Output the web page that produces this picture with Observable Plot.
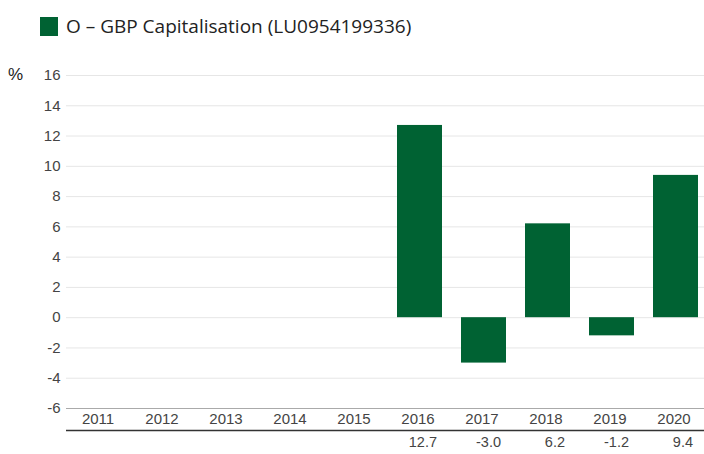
<!DOCTYPE html>
<html><head><meta charset="utf-8">
<script src="https://cdn.jsdelivr.net/npm/d3@7"></script>
<script src="https://cdn.jsdelivr.net/npm/@observablehq/plot@0.6"></script>
<style>
body{margin:0;background:#fff;width:704px;height:454px;overflow:hidden;position:relative}
#legend{position:absolute;left:40px;top:14px;font-family:"Open Sans","Noto Sans",sans-serif;font-size:19px;color:#222;display:flex;align-items:center;height:24px;z-index:2}
#legend .sw{width:18px;height:19px;background:#006233;margin-right:8px}
#pct{position:absolute;left:8px;top:65px;font-family:"Liberation Sans",Arial,sans-serif;font-size:17px;color:#222;z-index:2}
#chart{position:absolute;left:0;top:50px;z-index:1}
</style></head><body>
<div id="legend"><div class="sw"></div><span>O – GBP Capitalisation (LU0954199336)</span></div>
<div id="pct">%</div>
<div id="chart"></div>
<script>
const years = ["2011","2012","2013","2014","2015","2016","2017","2018","2019","2020"];
const returns = [null,null,null,null,null,12.7,-3.0,6.2,-1.2,9.4];
const yTicks = [-6,-4,-2,0,2,4,6,8,10,12,14,16];
const seriesColor = "#006233";

const data = years.map((y,i)=>({year:y, value:returns[i]}));
const bars = data.filter(d=>d.value!=null);

const plot = Plot.plot({
  width: 704,
  height: 404,
  marginTop: 25,
  marginBottom: 46,
  marginLeft: 66,
  marginRight: 0,
  style: {fontFamily: '"Liberation Sans", Arial, sans-serif', fontSize: "15px", color: "#444", background: "transparent", overflow: "visible"},
  x: {domain: years, range: [66, 708.5], paddingInner: 0.3, paddingOuter: 0.15, label: null},
  y: {domain: [-6, 16], ticks: yTicks, label: null},
  marks: [
    Plot.gridY(yTicks, {stroke: "#e6e6e6", strokeOpacity: 1}),
    Plot.barY(bars, {x: "year", y: "value", fill: seriesColor}),
    Plot.ruleX([0], {x: () => null, frameAnchor: "left", stroke: "#aaa"}),
    Plot.ruleY([-6], {stroke: "#aaa"}),
    Plot.axisY(yTicks, {tickSize: 0, tickPadding: 6, fill: "#444", fontSize: 15, label: null, tickFormat: d => String(d)}),
    Plot.axisX({tickSize: 0, tickPadding: 5, fill: "#444", fontSize: 15, label: null, dx: -2}),
    Plot.ruleY([-6], {dy: 22, stroke: "#333", strokeWidth: 1.5}),
    Plot.text(bars, {x: "year", frameAnchor: "bottom", dy: 38, dx: 17, textAnchor: "end", text: d => d.value.toFixed(1), fill: "#444", fontSize: 14.5})
  ]
});
document.getElementById("chart").appendChild(plot);
</script>
</body></html>
